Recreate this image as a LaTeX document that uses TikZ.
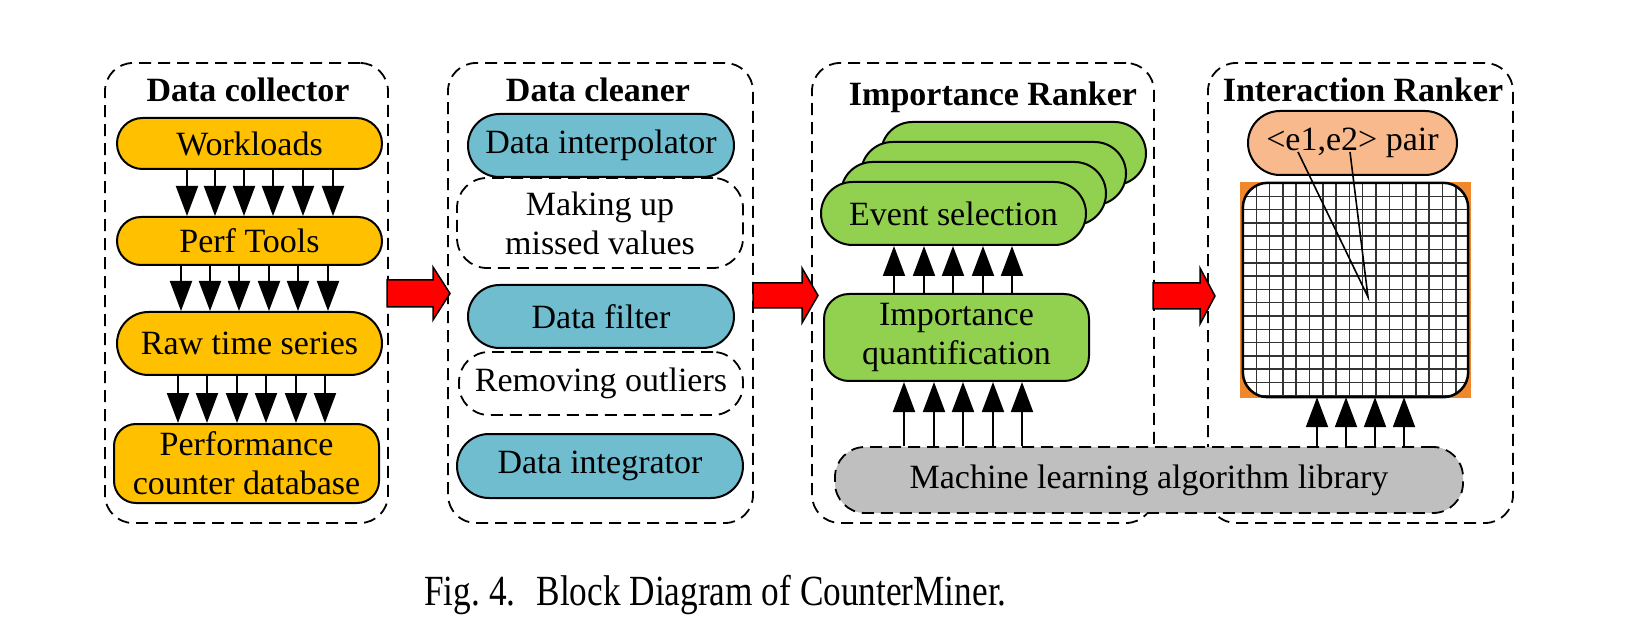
\documentclass[tikz,border=0pt]{standalone}
\usepackage{fontspec}
\setmainfont{Liberation Serif}
\usetikzlibrary{arrows.meta,calc}
\definecolor{cgold}{RGB}{255,192,0}
\definecolor{cblue}{RGB}{111,189,207}
\definecolor{cgreen}{RGB}{146,208,80}
\definecolor{cpeach}{RGB}{248,186,140}
\definecolor{corange}{RGB}{240,135,45}
\definecolor{cgray}{RGB}{191,191,191}
\definecolor{cred}{RGB}{255,0,0}
\tikzset{
  txt/.style={font=\fontsize{34}{39}\selectfont},
  boxnode/.style={draw, line width=2pt, inner sep=0pt, align=center, txt},
  dashbox/.style={draw, line width=1.8pt, dash pattern=on 12pt off 7pt, inner sep=0pt, align=center, txt},
  outerbox/.style={draw, line width=1.8pt, dash pattern=on 12pt off 7pt, rounded corners=28pt, inner sep=0pt, minimum height=460pt},
  titletxt/.style={font=\fontsize{34}{39}\selectfont\bfseries, anchor=base, inner sep=0pt},
  arr/.style={line width=2pt, -{Triangle[length=30pt,width=22pt]}},
  redarrow/.style={fill=cred, draw=black, line width=1.5pt, line join=miter},
}
\frenchspacing
\begin{document}
\begin{tikzpicture}[x=1pt,y=-1pt]
\useasboundingbox (0,0) rectangle (1650,636);

% outer dashed boxes
\node[outerbox, minimum width=283pt] (dc) at (246.5,293) {};
\node[outerbox, minimum width=305pt] (cl) at (600.5,293) {};
\node[outerbox, minimum width=342pt] (ir) at (983,293) {};
\node[outerbox, minimum width=305pt] (xr) at (1360.5,293) {};

% titles
\node[titletxt] (t1) at (248,101.7) {Data collector};
\node[titletxt] (t2) at (598,101.7) {Data cleaner};
\node[titletxt] (t3) at (993,106) {Importance Ranker};
\node[titletxt] (t4) at (1363,101.7) {Interaction Ranker};

% Data collector
\node[boxnode, fill=cgold, rounded corners=25.5pt, minimum width=265pt, minimum height=51pt] (wl) at (249.5,143.5) {Workloads};
\node[boxnode, fill=cgold, rounded corners=24pt, minimum width=265pt, minimum height=48pt] (pt) at (249.5,241) {Perf Tools};
\node[boxnode, fill=cgold, rounded corners=31.5pt, minimum width=265pt, minimum height=63pt] (rt) at (249.5,343.5) {Raw time series};
\node[boxnode, fill=cgold, rounded corners=22pt, minimum width=265pt, minimum height=79pt] (pc) at (246.5,463.5) {Performance\\counter database};

\foreach \x in {187,215,244,273,303,333}
  \draw[arr] (wl.south -| \x,0) -- (pt.north -| \x,0);
\foreach \x in {181,210,239,269,298,328}
  \draw[arr] (pt.south -| \x,0) -- (rt.north -| \x,0);
\foreach \x in {178,207,237,266,296,325}
  \draw[arr] (rt.south -| \x,0) -- (pc.north -| \x,0);

% Data cleaner
\node[boxnode, fill=cblue, rounded corners=31.5pt, minimum width=266pt, minimum height=63pt] (di) at (601,145.5) {Data interpolator};
\node[dashbox, rounded corners=30pt, minimum width=286pt, minimum height=90pt] (mu) at (600,223) {Making up\\missed values};
\node[boxnode, fill=cblue, rounded corners=31.5pt, minimum width=266pt, minimum height=63pt] (df) at (601,316.5) {Data filter};
\node[dashbox, rounded corners=30pt, minimum width=284pt, minimum height=63pt] (ro) at (601,383.5) {Removing outliers};
\node[boxnode, fill=cblue, rounded corners=32pt, minimum width=286pt, minimum height=64pt] (dg) at (600,466) {Data integrator};

% Importance ranker
\node[boxnode, fill=cgreen, rounded corners=31.5pt, minimum width=265pt, minimum height=63pt] (es3) at (1013.5,153.5) {};
\node[boxnode, fill=cgreen, rounded corners=31.5pt, minimum width=265pt, minimum height=63pt] (es2) at (993.5,173.5) {};
\node[boxnode, fill=cgreen, rounded corners=31.5pt, minimum width=265pt, minimum height=63pt] (es1) at (973.5,193.5) {};
\node[boxnode, fill=cgreen, rounded corners=31.5pt, minimum width=265pt, minimum height=63pt] (es) at (953.5,213.5) {Event selection};
\node[boxnode, fill=cgreen, rounded corners=25pt, minimum width=265pt, minimum height=87pt] (iq) at (956.5,337.5) {Importance\\quantification};

\foreach \x in {894,924,953,983,1012}
  \draw[arr] (iq.north -| \x,0) -- (es.south -| \x,0);

% Interaction ranker
\node[boxnode, fill=cpeach, rounded corners=32pt, minimum width=209pt, minimum height=64pt] (pr) at (1352.5,143) {<e1,e2> pair};
\node[fill=corange, inner sep=0pt, minimum width=231pt, minimum height=216pt] (osq) at (1355.5,290) {};
\node[fill=white, rounded corners=25pt, inner sep=0pt, minimum width=225pt, minimum height=214pt] (gr) at (1355.5,290) {};
\begin{scope}
  \clip[rounded corners=25pt] (gr.north west) rectangle (gr.south east);
  \begin{scope}[shift={(1243,183)}]
    \draw[line width=1.5pt, black!80] (0,214) grid[step=13.3pt] (225,0);
  \end{scope}
\end{scope}
\draw[line width=2.5pt, rounded corners=25pt] (gr.north west) rectangle (gr.south east);

\coordinate (e1) at (1298,152);
\coordinate (e2) at (1350,152);
\coordinate (cell) at (1368,297);
\draw[line width=1.6pt] (e1) -- (cell) -- (e2);

% ML library
\node[dashbox, fill=cgray, rounded corners=30pt, minimum width=628pt, minimum height=66pt] (ml) at (1149,480) {Machine learning algorithm library};

\foreach \x in {904,934,963,993,1022}
  \draw[arr] (ml.north -| \x,0) -- (iq.south -| \x,0);
\foreach \x in {1317,1346,1375,1404}
  \draw[arr] (ml.north -| \x,0) -- (gr.south -| \x,0);

% red block arrows
\draw[redarrow] (387,280) -- (433,280) -- (433,267) -- (450,293.5) -- (433,320) -- (433,307) -- (387,307) -- cycle;
\draw[redarrow] (753,283) -- (802,283) -- (802,268) -- (818,295.5) -- (802,323) -- (802,308) -- (753,308) -- cycle;
\draw[redarrow] (1153,283) -- (1200,283) -- (1200,268) -- (1215,296) -- (1200,324) -- (1200,309) -- (1153,309) -- cycle;

% caption
\node[anchor=base, inner sep=0pt] (cap) at (715.5,605) {\scalebox{0.82}[1]{\fontsize{43}{50}\selectfont Fig.\ 4.\hspace{0.6em}Block Diagram of CounterMiner.}};
\end{tikzpicture}
\end{document}
